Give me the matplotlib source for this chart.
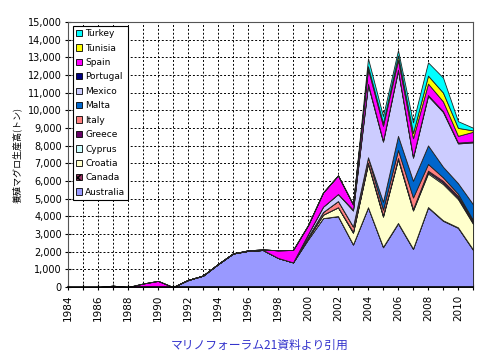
import matplotlib
matplotlib.use('Agg')
import matplotlib.pyplot as plt
from matplotlib.patches import Patch
from matplotlib.ticker import StrMethodFormatter
import numpy as np

plt.rcParams['font.family'] = ['DejaVu Sans']

years = list(range(1984, 2012))

# tonnes per year, 1984-2011
pre = [0] * 16  # 1984-1999
australia = [0, 0, 0, 0, 0, 0, 0, 0, 400, 650, 1300, 1900, 2050, 2100, 1650, 1400,
             2700, 3900, 4000, 2400, 4500, 2250, 3600, 2150, 4500, 3750, 3350, 2100]
canada = pre + [0, 0, 20, 20, 20, 30, 30, 30, 30, 30, 30, 30]
croatia = pre + [100, 200, 500, 650, 2450, 1700, 3600, 2150, 1900, 2050, 1600, 1450]
cyprus = pre + [0, 0, 0, 30, 50, 50, 50, 50, 80, 80, 80, 60]
greece = pre + [0, 0, 0, 30, 30, 30, 30, 40, 80, 100, 100, 100]
italy = pre + [50, 150, 350, 300, 300, 320, 450, 650, 380, 200, 120, 50]
malta = pre + [0, 0, 0, 0, 0, 450, 800, 950, 1050, 600, 600, 900]
mexico = pre + [150, 300, 400, 900, 4100, 3400, 3700, 1300, 2800, 3100, 2250, 3500]
portugal = pre + [0, 0, 0, 50, 50, 50, 50, 50, 50, 50, 50, 50]
spain = [0, 0, 0, 80, 0, 200, 350, 0, 0, 0, 0, 0, 30, 30, 430, 700,
         500, 800, 1050, 300, 850, 850, 550, 1050, 650, 550, 380, 550]
tunisia = pre + [0, 0, 0, 0, 150, 150, 250, 300, 450, 500, 450, 80]
turkey = pre + [0, 0, 0, 0, 450, 400, 300, 600, 750, 850, 380, 150]

names = ['Australia', 'Canada', 'Croatia', 'Cyprus', 'Greece', 'Italy',
         'Malta', 'Mexico', 'Portugal', 'Spain', 'Tunisia', 'Turkey']
series = [australia, canada, croatia, cyprus, greece, italy,
          malta, mexico, portugal, spain, tunisia, turkey]
colors = ['#9999FF', '#993366', '#FFFFCC', '#CCFFFF', '#660066', '#FF8080',
          '#0066CC', '#CCCCFF', '#000080', '#FF00FF', '#FFFF00', '#00FFFF']

fig = plt.figure(figsize=(5, 3.62), dpi=100)
ax = fig.add_axes([0.136, 0.207, 0.81, 0.732])

ax.stackplot(years, *series, colors=colors, edgecolor='#222222', linewidth=0.6, zorder=3)

ax.set_xlim(1984, 2011)
ax.set_ylim(0, 15000)
ax.set_xticks(years)
ax.set_xticklabels([str(y) if y % 2 == 0 else '' for y in years], rotation=90, fontsize=7.5)
ax.set_yticks(np.arange(0, 15001, 1000))
ax.yaxis.set_major_formatter(StrMethodFormatter('{x:,.0f}'))
ax.tick_params(axis='both', direction='inout', length=5, width=0.8, pad=2)
ax.tick_params(axis='y', labelsize=7)
ax.tick_params(axis='x', pad=3)

ax.grid(True, color='black', linestyle=(0, (2, 2)), linewidth=0.7, zorder=1)
ax.set_axisbelow(True)
for s in ax.spines.values():
    s.set_color('#555555')
    s.set_linewidth(0.8)
ax.spines['bottom'].set_color('black')
ax.spines['bottom'].set_linewidth(1.2)
ax.spines['bottom'].set_zorder(5)

ax.set_ylabel('養殖マグロ生産高(トン)', family=['Noto Sans CJK JP', 'DejaVu Sans'],
              fontsize=6.5, labelpad=4)

handles = [Patch(facecolor=c, edgecolor='black', linewidth=0.6, label=n,
                 hatch='xxx' if n == 'Canada' else None)
           for n, c in zip(names, colors)][::-1]
leg = ax.legend(handles=handles, loc='upper left', bbox_to_anchor=(0.012, 0.985),
                borderaxespad=0, fontsize=6.5, handlelength=0.7, handleheight=0.7,
                handletextpad=0.3, labelspacing=0.6, borderpad=0.35,
                fancybox=False, framealpha=1, edgecolor='black')
leg.get_frame().set_linewidth(0.8)
leg.set_zorder(6)

fig.text(0.52, 0.047, 'マリノフォーラム21資料より引用', color='#3333CC',
         family=['Noto Sans CJK JP', 'DejaVu Sans'], fontsize=8.5, ha='center', va='center')

fig.savefig('out.png', dpi=100, facecolor='white')
